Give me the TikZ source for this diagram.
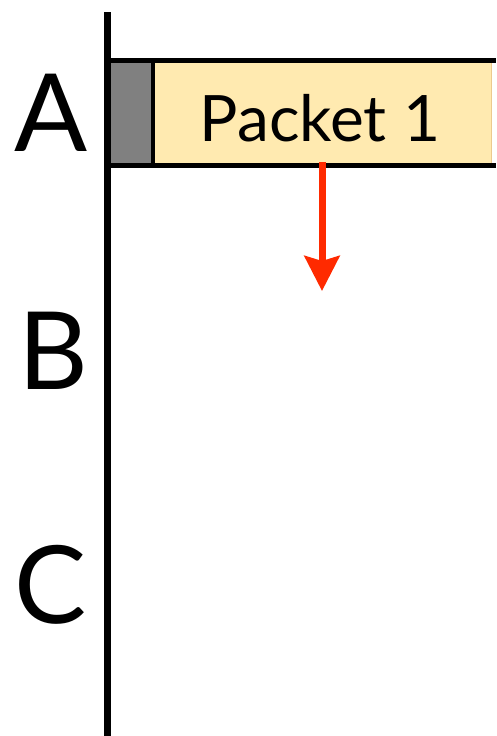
\documentclass[tikz,border=0pt]{standalone}
\usepackage{fontspec}
\setmainfont{Lato}
\usetikzlibrary{arrows.meta}

\definecolor{packetfill}{RGB}{255,234,176}
\definecolor{headergray}{RGB}{128,128,128}
\definecolor{arrowred}{RGB}{255,42,0}

\begin{document}
\begin{tikzpicture}[x=1pt, y=-1pt]
    \useasboundingbox (0,0) rectangle (496,736);

    \tikzset{
        station/.style={anchor=base, inner sep=0pt, font=\fontsize{108}{108}\selectfont},
        pkttext/.style={anchor=base, inner sep=0pt, font=\fontsize{64}{64}\selectfont},
    }

    \def\lx{107.5}
    \def\top{60.5}
    \def\bot{165.5}
    \def\hx{153}

    % packet body and header
    \fill[packetfill, draw=packetfill!70!brown] (\hx, \top) rectangle (491, \bot);
    \fill[headergray] (\lx, \top) rectangle (\hx, \bot);
    \draw[line width=5] (\lx, \top) -- (496, \top);
    \draw[line width=5] (\lx, \bot) -- (496, \bot);
    \draw[line width=4] (\hx, \top) -- (\hx, \bot);
    \node[pkttext] (pkt) at (320, 141) {Packet 1};

    % station axis
    \draw[line width=7] (\lx, 12) -- (\lx, 736);
    \node[station] (stA) at (51, 151) {A};
    \node[station] (stB) at (53, 389) {B};
    \node[station] (stC) at (51, 623) {C};

    % propagation
    \coordinate (drop) at (322, 162);
    \coordinate (tip) at (322, 291);
    \draw[arrowred, line width=7, -{Stealth[length=35pt, width=35pt, inset=5pt]}] (drop) -- (tip);
\end{tikzpicture}
\end{document}
